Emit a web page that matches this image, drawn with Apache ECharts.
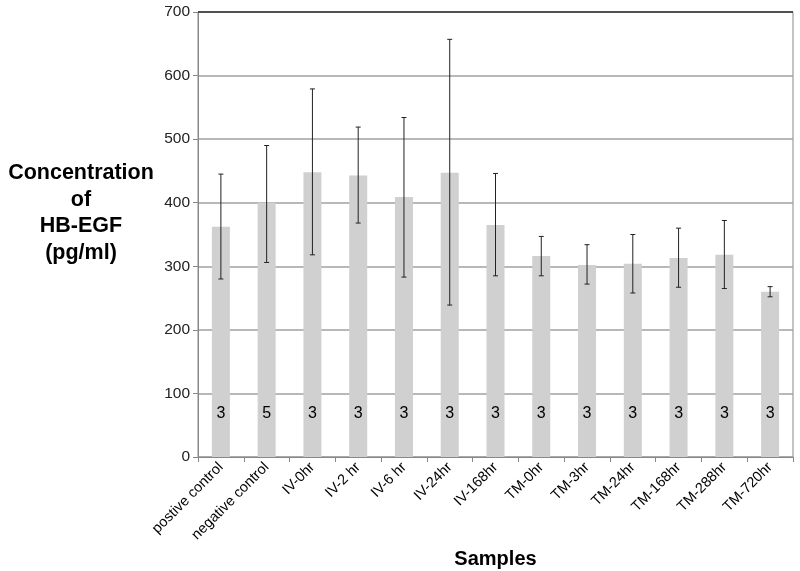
<!DOCTYPE html>
<html><head><meta charset="utf-8">
<script src="https://cdn.jsdelivr.net/npm/echarts@6/dist/echarts.min.js"></script>
<style>html,body{margin:0;padding:0;background:#fff}#c{width:800px;height:571px}</style>
</head><body><div id="c"></div>
<script>
const categories = ["postive control","negative control","IV-0hr","IV-2 hr","IV-6 hr","IV-24hr","IV-168hr","TM-0hr","TM-3hr","TM-24hr","TM-168hr","TM-288hr","TM-720hr"];
const means = [362, 400, 448, 443, 409, 447, 365, 316, 302, 304, 313, 318, 260];
const errHigh = [445, 490, 579, 519, 534, 657, 446, 347, 334, 350, 360, 372, 268];
const errLow = [280, 306, 318, 368, 283, 239, 285, 285, 272, 258, 267, 265, 252];
const nValues = [3, 5, 3, 3, 3, 3, 3, 3, 3, 3, 3, 3, 3];
const yTicks = [0, 100, 200, 300, 400, 500, 600, 700];

const chart = echarts.init(document.getElementById('c'));
const errData = categories.map((c, i) => [i, errLow[i], errHigh[i]]);
chart.setOption({
  animation: false,
  grid: {left: 198, right: 7, top: 12, bottom: 114, show: true, borderColor: '#888', borderWidth: 1,
    containLabel: false, outerBoundsMode: 'none'},
  xAxis: {
    type: 'category', data: categories,
    axisLine: {lineStyle: {color: '#888'}},
    axisTick: {show: true, length: 5, lineStyle: {color: '#888'}},
    axisLabel: {rotate: 45, fontSize: 14.5, color: '#000', fontFamily: 'Liberation Sans', margin: 8, interval: 0},
    name: 'Samples', nameLocation: 'middle', nameGap: 85,
    nameTextStyle: {fontSize: 20, fontWeight: 'bold', color: '#000', fontFamily: 'Liberation Sans'}
  },
  yAxis: {
    type: 'value', min: yTicks[0], max: yTicks[yTicks.length - 1], interval: 100,
    axisLine: {show: true, lineStyle: {color: '#888'}},
    axisTick: {show: true, length: 5, lineStyle: {color: '#888'}},
    axisLabel: {fontSize: 15.5, color: '#222', fontFamily: 'Liberation Sans', margin: 8},
    splitLine: {lineStyle: {color: '#a0a0a0', width: 1.5}}
  },
  graphic: [{
    type: 'text', x: 81, y: 160,
    style: {text: 'Concentration\nof\nHB-EGF\n(pg/ml)', textAlign: 'center', fontSize: 21.5, fontWeight: 'bold',
      fontFamily: 'Liberation Sans', lineHeight: 26.5, fill: '#000'}
  }, {
    type: 'line', shape: {x1: 198, y1: 12, x2: 793, y2: 12}, style: {stroke: '#333', lineWidth: 1.5}, z: 20
  }],
  series: [{
    type: 'bar', data: means, barWidth: 18,
    itemStyle: {color: '#d0d0d0'},
    label: {show: true, position: 'insideBottom', distance: 35, fontSize: 16, color: '#000',
      fontFamily: 'Liberation Sans', formatter: p => String(nValues[p.dataIndex])}
  }, {
    type: 'custom', data: errData, z: 10,
    renderItem: function (params, api) {
      const x = api.value(0);
      const lo = api.coord([x, api.value(1)]);
      const hi = api.coord([x, api.value(2)]);
      const w = 2.5;
      const st = {stroke: '#222', lineWidth: 1};
      return {type: 'group', children: [
        {type: 'line', shape: {x1: hi[0], y1: hi[1], x2: lo[0], y2: lo[1]}, style: st},
        {type: 'line', shape: {x1: hi[0] - w, y1: hi[1], x2: hi[0] + w, y2: hi[1]}, style: st},
        {type: 'line', shape: {x1: lo[0] - w, y1: lo[1], x2: lo[0] + w, y2: lo[1]}, style: st}
      ]};
    }
  }]
});
</script></body></html>
